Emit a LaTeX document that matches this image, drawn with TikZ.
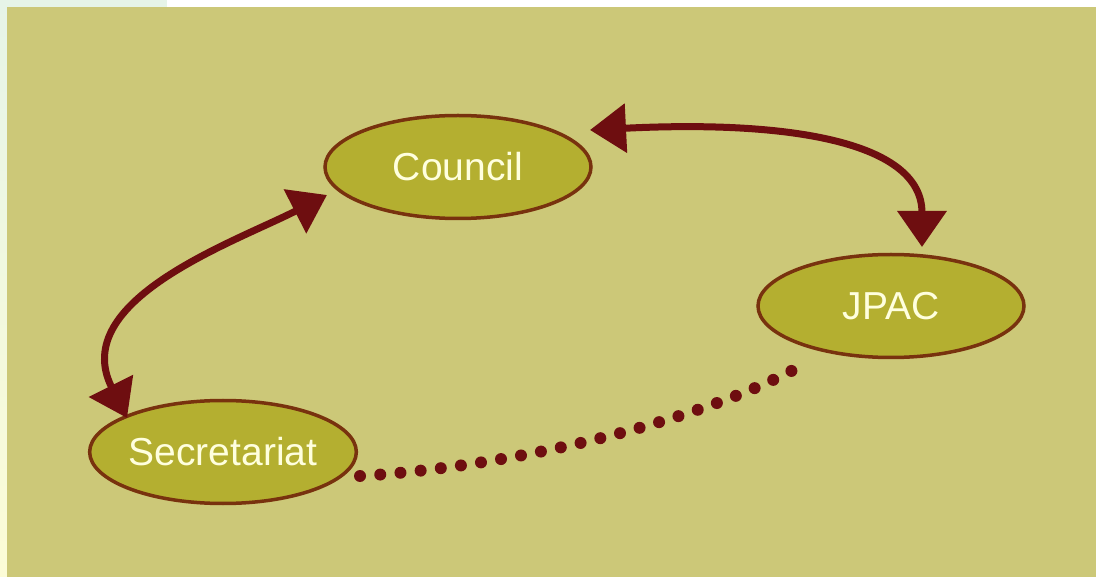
\documentclass[tikz,border=0pt]{standalone}
\usepackage{fontspec}
\setmainfont{Liberation Sans}
\usetikzlibrary{arrows.meta,shapes.geometric}
\definecolor{panel}{RGB}{204,200,120}
\definecolor{ellfill}{RGB}{180,175,48}
\definecolor{ellline}{RGB}{120,50,14}
\definecolor{arrowred}{RGB}{110,14,16}
\definecolor{txt}{RGB}{255,255,222}
\definecolor{mint}{RGB}{230,244,232}
\definecolor{paleyellow}{RGB}{252,252,214}
\tikzset{
  bubble/.style={ellipse, draw=ellline, line width=3.5pt, fill=ellfill,
    minimum width=266pt, minimum height=103pt, inner sep=0pt,
    text=txt, font=\fontsize{39}{39}\selectfont},
  link/.style={draw=arrowred, line width=7pt,
    {Triangle[length=36pt,width=48pt]}-{Triangle[length=36pt,width=48pt]}},
  dotlink/.style={draw=arrowred, line width=12pt, line cap=round,
    dash pattern=on 0pt off 20.3pt}
}
\begin{document}
\begin{tikzpicture}[x=1pt,y=-1pt]
\useasboundingbox (0,0) rectangle (1096,577);
% background
\fill[white] (0,0) rectangle (1096,577);
\shade[top color=mint, bottom color=paleyellow] (0,0) rectangle (7,577);
\fill[mint] (0,0) rectangle (167,7);
\fill[panel] (7,7) rectangle (1096,577);
% nodes
\node[bubble] (council) at (458,167) {Council};
\node[bubble] (jpac) at (891,306) {JPAC};
\node[bubble] (secretariat) at (223,452) {Secretariat};
% connectors
\draw[link] ([shift={(132,-37)}]council.center)
  .. controls (790,120) and (922,142) ..
  ([shift={(31,-59)}]jpac.center);
\draw[link] ([shift={(-131,28)}]council.center)
  .. controls (235,242) and (68,300) ..
  ([shift={(-96,-34)}]secretariat.center);
\draw[dotlink] ([shift={(137,24)}]secretariat.center)
  .. controls (520,466) and (700,420) ..
  ([shift={(-94,62)}]jpac.center);
\end{tikzpicture}
\end{document}
